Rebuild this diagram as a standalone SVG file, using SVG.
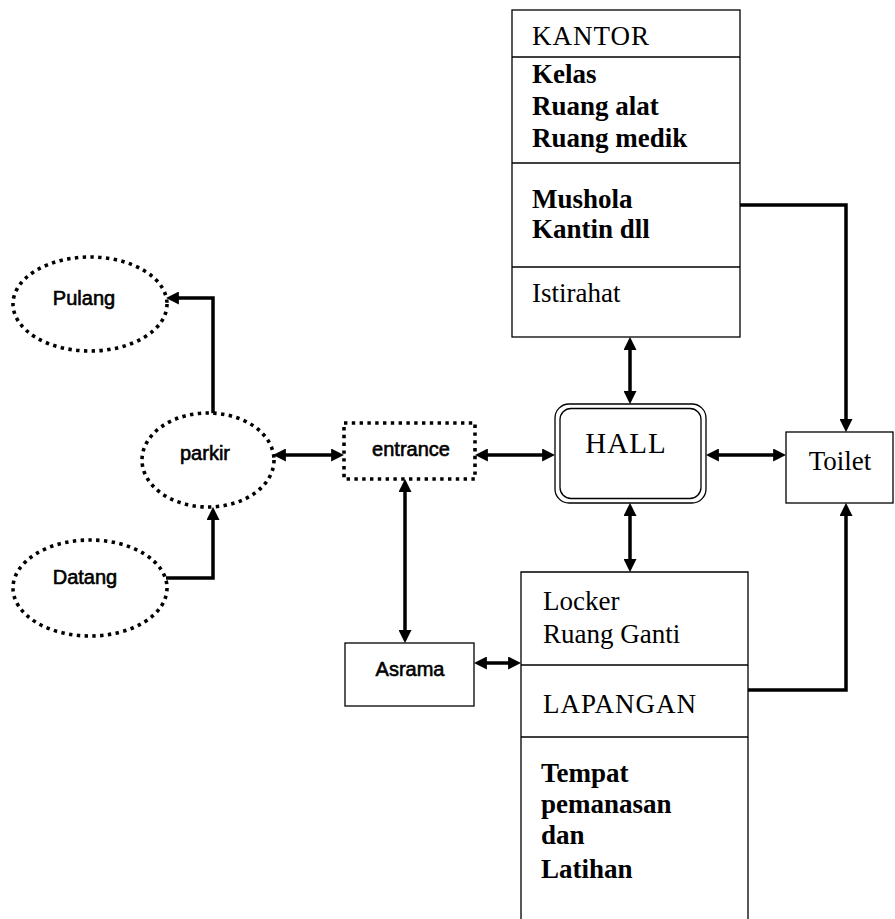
<svg xmlns="http://www.w3.org/2000/svg" width="895" height="919" viewBox="0 0 895 919">
<style>
.serif{font-family:"Liberation Serif","Times New Roman",serif;font-size:27px;fill:#000}
.b{font-weight:bold}
.sans{font-family:"Liberation Sans",Arial,sans-serif;font-size:20px;fill:#000;stroke:#000;stroke-width:0.6;text-anchor:middle}
.box{fill:#fff;stroke:#000;stroke-width:1.3}
.dot{fill:#fff;stroke:#000;stroke-width:3.6;stroke-dasharray:3.4 4.4}
.div{stroke:#000;stroke-width:1.3;fill:none}
.con{fill:none;stroke:#000;stroke-width:3.5}
</style>
<defs>
<marker id="ah" viewBox="0 0 10 10" refX="3" refY="5" markerWidth="13" markerHeight="13" markerUnits="userSpaceOnUse" orient="auto-start-reverse">
<path d="M0,0 L10,5 L0,10 z" fill="#000"/>
</marker>
</defs>
<rect width="895" height="919" fill="#fff"/>
<g id="connectors">
<path class="con" d="M213,414 V298 H175" marker-end="url(#ah)"/>
<path class="con" d="M166,578 H213 V516" marker-end="url(#ah)"/>
<path class="con" d="M282,455 H335" marker-start="url(#ah)" marker-end="url(#ah)"/>
<path class="con" d="M484,455 H546" marker-start="url(#ah)" marker-end="url(#ah)"/>
<path class="con" d="M715,455 H777" marker-start="url(#ah)" marker-end="url(#ah)"/>
<path class="con" d="M630,346 V395" marker-start="url(#ah)" marker-end="url(#ah)"/>
<path class="con" d="M630,512 V563" marker-start="url(#ah)" marker-end="url(#ah)"/>
<path class="con" d="M405,488 V634" marker-start="url(#ah)" marker-end="url(#ah)"/>
<path class="con" d="M483,663 H512" marker-start="url(#ah)" marker-end="url(#ah)"/>
<path class="con" d="M740,205 H846 V423" marker-end="url(#ah)"/>
<path class="con" d="M748,690 H846 V512" marker-end="url(#ah)"/>
</g>
<g id="pulang">
<ellipse class="dot" cx="90" cy="304" rx="77" ry="47"/>
<text class="sans" x="84" y="305">Pulang</text>
</g>
<g id="datang">
<ellipse class="dot" cx="90" cy="588" rx="77" ry="48"/>
<text class="sans" x="85" y="584">Datang</text>
</g>
<g id="parkir">
<ellipse class="dot" cx="208" cy="460" rx="66" ry="47"/>
<text class="sans" x="205" y="460">parkir</text>
</g>
<g id="entrance">
<rect class="dot" x="344" y="423" width="131" height="56"/>
<text class="sans" x="411" y="456">entrance</text>
</g>
<g id="asrama">
<rect class="box" x="345" y="643" width="129" height="63"/>
<text class="sans" x="410" y="676">Asrama</text>
</g>
<g id="hall">
<rect class="box" x="555" y="404" width="151" height="99" rx="14"/>
<rect class="div" x="560" y="408.5" width="141" height="90" rx="11"/>
<text class="serif" x="626" y="453" text-anchor="middle" style="font-size:29px;letter-spacing:1px">HALL</text>
</g>
<g id="toilet">
<rect class="box" x="786" y="432" width="107" height="71"/>
<text class="serif" x="840" y="470" text-anchor="middle">Toilet</text>
</g>
<g id="kantor">
<rect class="box" x="512" y="10" width="228" height="327"/>
<line class="div" x1="512" y1="57" x2="740" y2="57"/>
<line class="div" x1="512" y1="163" x2="740" y2="163"/>
<line class="div" x1="512" y1="267" x2="740" y2="267"/>
<text class="serif" x="532" y="45" style="letter-spacing:1px">KANTOR</text>
<text class="serif b" x="532" y="83">Kelas</text>
<text class="serif b" x="532" y="115">Ruang alat</text>
<text class="serif b" x="532" y="147">Ruang medik</text>
<text class="serif b" x="532" y="208">Mushola</text>
<text class="serif b" x="532" y="238">Kantin dll</text>
<text class="serif" x="532" y="302">Istirahat</text>
</g>
<g id="lapangan">
<path class="div" d="M521,919 V572 H748 V919"/>
<line class="div" x1="521" y1="665" x2="748" y2="665"/>
<line class="div" x1="521" y1="737" x2="748" y2="737"/>
<text class="serif" x="543" y="610">Locker</text>
<text class="serif" x="543" y="643">Ruang Ganti</text>
<text class="serif" x="543" y="713" style="letter-spacing:1px">LAPANGAN</text>
<text class="serif b" x="541" y="782">Tempat</text>
<text class="serif b" x="541" y="813">pemanasan</text>
<text class="serif b" x="541" y="844">dan</text>
<text class="serif b" x="541" y="878">Latihan</text>
</g>
</svg>
